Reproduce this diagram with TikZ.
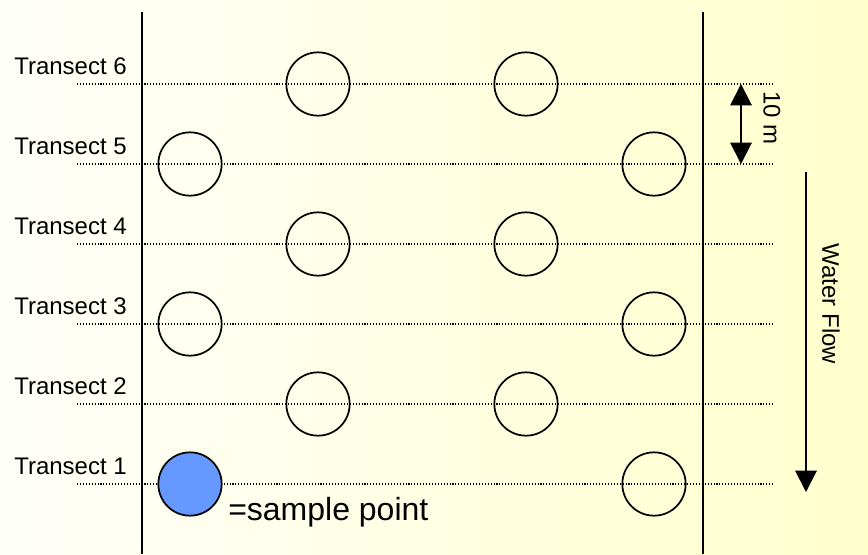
\documentclass[tikz,border=0pt]{standalone}
\usepackage{fontspec}
\setmainfont{Liberation Sans}
\usetikzlibrary{arrows.meta}
\definecolor{bg_white}{RGB}{255,255,250}
\definecolor{bg_yellow}{RGB}{255,255,204}
\definecolor{point_blue}{RGB}{102,153,255}

\begin{document}
\begin{tikzpicture}[x=0.75pt,y=-0.75pt,>={Triangle[width=16pt,length=16pt]}]
    \tikzstyle{spot}=[draw=black, circle, line width=1.3pt, minimum size=47.5pt, inner sep=0pt, fill=none]
    \tikzstyle{sample}=[style=spot, fill=point_blue]
    \tikzstyle{label}=[inner sep=0pt, font=\fontsize{18}{20}\selectfont]
    \tikzstyle{transect}=[line width=0.8pt, dash pattern=on 0.8pt off 1.4pt]
    \tikzstyle{bank}=[line width=1.5pt]

    % background
    \shade[left color=bg_white, right color=bg_yellow] (0,0) rectangle (868,554);
    \useasboundingbox (0,0) rectangle (868,554);

    % transect lines and labels
    \foreach \i in {1,...,6} {
        \coordinate (l\i) at (77,{564-80*\i});
        \coordinate (r\i) at (773,{564-80*\i});
        \node[label, anchor=base west] (t\i) at (14,{554-80*\i}) {Transect \i};
        \draw[transect] (l\i) -- (r\i);
    }

    % river banks
    \coordinate (bl1) at (142,12);
    \coordinate (bl2) at (142,554);
    \coordinate (br1) at (703,12);
    \coordinate (br2) at (703,554);
    \draw[bank] (bl1) -- (bl2);
    \draw[bank] (br1) -- (br2);

    % sampling circles
    \node[spot] (c62) at (318,84)  {};
    \node[spot] (c63) at (526,84)  {};
    \node[spot] (c51) at (190,164) {};
    \node[spot] (c54) at (654,164) {};
    \node[spot] (c42) at (318,244) {};
    \node[spot] (c43) at (526,244) {};
    \node[spot] (c31) at (190,324) {};
    \node[spot] (c34) at (654,324) {};
    \node[spot] (c22) at (318,404) {};
    \node[spot] (c23) at (526,404) {};
    \node[sample] (c11) at (190,484) {};
    \node[spot] (c14) at (654,484) {};
    \node[inner sep=0pt, anchor=base west, font=\fontsize{24}{26}\selectfont] (key) at (228,520) {=sample point};

    % spacing and flow
    \coordinate (ten1) at (741,84);
    \coordinate (ten2) at (741,164);
    \draw[<->, line width=1.5pt] (ten1) -- (ten2);
    \node[label, rotate=-90] (tenm) at (772,118) {10 m};

    \coordinate (flow1) at (806,172);
    \coordinate (flow2) at (806,492);
    \draw[->, line width=1.5pt] (flow1) -- (flow2);
    \node[label, rotate=-90] (flow) at (831,304) {Water Flow};
\end{tikzpicture}
\end{document}
